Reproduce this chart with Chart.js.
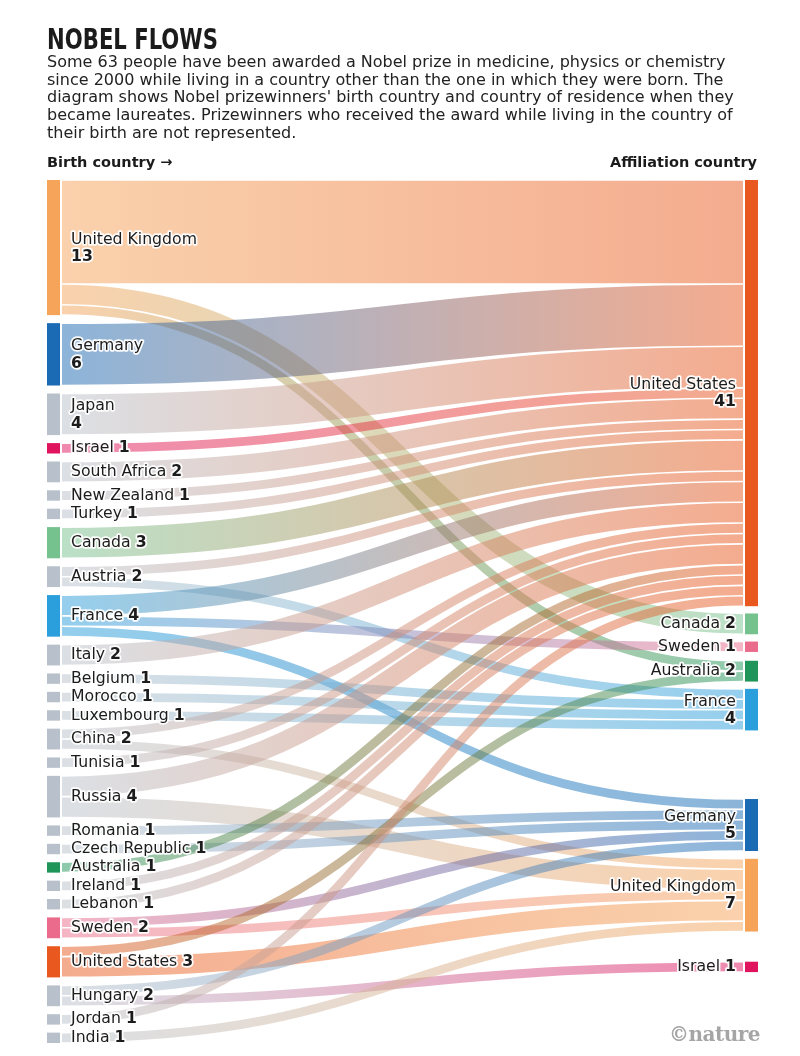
<!DOCTYPE html>
<html><head><meta charset="utf-8">
<script src="https://cdn.jsdelivr.net/npm/chart.js@4.4.1/dist/chart.umd.min.js"></script>
<style>
html,body{margin:0;padding:0;background:#fff;width:800px;height:1056px;overflow:hidden;}
#wrap{position:relative;width:800px;height:1056px;}
#c{position:absolute;left:0;top:0;z-index:1;}
.t{position:absolute;white-space:nowrap;color:#1b1b1b;z-index:2;}
#title{left:47px;top:25px;font-family:'Liberation Sans Narrow','DejaVu Sans Condensed',sans-serif;font-weight:bold;font-size:29px;line-height:29px;transform-origin:left top;}
#sub{left:47px;top:53px;font-family:'DejaVu Sans',sans-serif;font-size:16px;line-height:17.7px;color:#222;}
#lh{left:47px;top:155px;font-family:'DejaVu Sans',sans-serif;font-weight:bold;font-size:14.5px;line-height:14px;}
#rh{right:43px;top:155px;font-family:'DejaVu Sans',sans-serif;font-weight:bold;font-size:14.5px;line-height:14px;}
#nat{right:40px;top:1024px;font-family:'DejaVu Serif',serif;font-weight:bold;font-size:20px;line-height:20px;color:#a5a5a5;letter-spacing:-0.5px;}
</style></head>
<body><div id="wrap">
<canvas id="c" width="800" height="1056"></canvas>
<div class="t" id="title">NOBEL FLOWS</div>
<div class="t" id="sub">Some 63 people have been awarded a Nobel prize in medicine, physics or chemistry<br>since 2000 while living in a country other than the one in which they were born. The<br>diagram shows Nobel prizewinners' birth country and country of residence when they<br>became laureates. Prizewinners who received the award while living in the country of<br>their birth are not represented.</div>
<div class="t" id="lh">Birth country →</div>
<div class="t" id="rh">Affiliation country</div>
<div class="t" id="nat">©nature</div>
</div>
<script>
// ---------------- DATA ----------------
const birthCountries = ['United Kingdom','Germany','Japan','Israel','South Africa','New Zealand','Turkey','Canada','Austria','France','Italy','Belgium','Morocco','Luxembourg','China','Tunisia','Russia','Romania','Czech Republic','Australia','Ireland','Lebanon','Sweden','United States','Hungary','Jordan','India'];
const affiliationCountries = ['United States','Canada','Sweden','Australia','France','Germany','United Kingdom','Israel'];
const flowFrom = ['United Kingdom','United Kingdom','United Kingdom','Germany','Japan','Israel','South Africa','New Zealand','Turkey','Canada','Austria','Austria','France','France','France','Italy','Belgium','Morocco','Luxembourg','China','China','Tunisia','Russia','Russia','Romania','Czech Republic','Australia','Ireland','Lebanon','Sweden','Sweden','United States','United States','Hungary','Hungary','Jordan','India'];
const flowTo = ['United States','Canada','Australia','United States','United States','United States','United States','United States','United States','United States','United States','France','United States','Sweden','Germany','United States','France','France','France','United States','United Kingdom','United States','United States','United Kingdom','Germany','Germany','United States','United States','United States','Germany','United Kingdom','Australia','United Kingdom','Germany','Israel','United States','United Kingdom'];
const flowCount = [10,2,1,6,4,1,2,1,1,3,1,1,2,1,1,2,1,1,1,1,1,1,2,2,1,1,1,1,1,1,1,1,2,1,1,1,1];

// ---------------- STYLE / LAYOUT ----------------
const countryColor = {'United Kingdom':'#f5a45a','Germany':'#1a6ab4','Israel':'#e0135f','Canada':'#76c28f','France':'#2b9fdc','Australia':'#1f955a','Sweden':'#ea6b8b','United States':'#e9591f'};
const greyColor = '#b8c1cb';
const layout = {
  nodeWidth: 13/711, leftGap: 0.77, rightGapBefore: [0,0.7,0.7,0.85,0.7,6.6,0.75,2.9],
  linkPadPx: 2, linkInsetPx: 1.6, alpha: 0.5,
  twoLineLeft: ['United Kingdom','Germany','Japan'],
  twoLineRight: ['United States','France','Germany','United Kingdom'],
  font: "15.7px 'DejaVu Sans'", boldFont: "bold 15.7px 'DejaVu Sans'"
};

function sumBy(names, keyArr){ return names.map(n => keyArr.reduce((s,k,i)=> s + (k===n ? flowCount[i] : 0), 0)); }
const birthTotals = sumBy(birthCountries, flowFrom);
const affTotals = sumBy(affiliationCountries, flowTo);
const yMax = birthTotals.reduce((a,b)=>a+b,0) + (birthCountries.length-1)*layout.leftGap;

function rgba(hex,a){const n=parseInt(hex.slice(1),16);return `rgba(${n>>16&255},${n>>8&255},${n&255},${a})`;}

const sankeyPlugin = {
  id:'sankey',
  afterDatasetsDraw(chart){
    const {ctx, scales:{x, y}} = chart;
    const left = {}, right = {};
    let acc = 0;
    birthCountries.forEach((n,i)=>{ left[n] = {y0:acc, y1:acc+birthTotals[i], idx:i, off:0}; acc += birthTotals[i] + layout.leftGap; });
    acc = 0;
    affiliationCountries.forEach((n,j)=>{ acc += layout.rightGapBefore[j]; right[n] = {y0:acc, y1:acc+affTotals[j], idx:j, off:0}; acc += affTotals[j]; });
    const links = flowFrom.map((s,i)=>({s, t:flowTo[i], v:flowCount[i], i}));
    const bySrc = [...links].sort((a,b)=> left[a.s].idx - left[b.s].idx || right[a.t].idx - right[b.t].idx);
    bySrc.forEach(l=>{ const n=left[l.s]; l.sy = n.y0 + n.off + l.v/2; n.off += l.v; });
    const byTgt = [...links].sort((a,b)=> right[a.t].idx - right[b.t].idx || left[a.s].idx - left[b.s].idx);
    byTgt.forEach(l=>{ const n=right[l.t]; l.ty = n.y0 + n.off + l.v/2; n.off += l.v; });
    const unitPx = Math.abs(y.getPixelForValue(1) - y.getPixelForValue(0));
    const xL0 = x.getPixelForValue(0), xL1 = x.getPixelForValue(layout.nodeWidth);
    const xR0 = x.getPixelForValue(1 - layout.nodeWidth), xR1 = x.getPixelForValue(1);
    const xs = xL1 + layout.linkPadPx, xt = xR0 - layout.linkPadPx, xm = (xs+xt)/2;
    ctx.save();
    links.forEach(l=>{
      const ys = y.getPixelForValue(l.sy), yt = y.getPixelForValue(l.ty);
      const g = ctx.createLinearGradient(xs,0,xt,0);
      g.addColorStop(0, rgba(countryColor[l.s]||greyColor, layout.alpha));
      g.addColorStop(1, rgba(countryColor[l.t]||greyColor, layout.alpha));
      ctx.strokeStyle = g;
      ctx.lineWidth = Math.max(1, l.v*unitPx - layout.linkInsetPx);
      ctx.lineCap = 'butt';
      ctx.beginPath(); ctx.moveTo(xs, ys); ctx.bezierCurveTo(xm, ys, xm, yt, xt, yt); ctx.stroke();
    });
    birthCountries.forEach(n=>{ const nd=left[n]; const p0=y.getPixelForValue(nd.y0), p1=y.getPixelForValue(nd.y1);
      ctx.fillStyle = countryColor[n]||greyColor; ctx.fillRect(xL0, p0, xL1-xL0, p1-p0); });
    affiliationCountries.forEach(n=>{ const nd=right[n]; const p0=y.getPixelForValue(nd.y0), p1=y.getPixelForValue(nd.y1);
      ctx.fillStyle = countryColor[n]||greyColor; ctx.fillRect(xR0, p0, xR1-xR0, p1-p0); });
    ctx.textBaseline = 'middle'; ctx.lineJoin = 'round';
    function txt(s, px, py, bold, align){
      ctx.font = bold ? layout.boldFont : layout.font; ctx.textAlign = align;
      ctx.lineWidth = 3.5; ctx.strokeStyle = 'rgba(255,255,255,0.95)'; ctx.strokeText(s, px, py);
      ctx.fillStyle = '#1c1c1c'; ctx.fillText(s, px, py);
    }
    function w(s,bold){ ctx.font = bold ? layout.boldFont : layout.font; return ctx.measureText(s).width; }
    const lx = xL1 + 11;
    birthCountries.forEach((n,i)=>{ const nd=left[n]; const c = y.getPixelForValue((nd.y0+nd.y1)/2); const v=String(birthTotals[i]);
      if (layout.twoLineLeft.includes(n)) { txt(n, lx, c-8, false, 'left'); txt(v, lx, c+9.5, true, 'left'); }
      else { txt(n, lx, c, false, 'left'); txt(v, lx + w(n+' ',false), c, true, 'left'); }
    });
    const rx = xR0 - 9;
    affiliationCountries.forEach((n,j)=>{ const nd=right[n]; const c = y.getPixelForValue((nd.y0+nd.y1)/2); const v=String(affTotals[j]);
      if (layout.twoLineRight.includes(n)) { txt(n, rx, c-8, false, 'right'); txt(v, rx, c+9, true, 'right'); }
      else { txt(v, rx, c, true, 'right'); txt(n, rx - w(v,true) - w(' ',false), c, false, 'right'); }
    });
    ctx.restore();
  }
};

new Chart(document.getElementById('c'), {
  type:'scatter',
  data:{datasets:[{data:[]}]},
  options:{
    responsive:false, animation:false,
    layout:{padding:{top:180,left:47,right:42,bottom:13}},
    scales:{ x:{type:'linear',min:0,max:1,display:false}, y:{type:'linear',min:0,max:yMax,reverse:true,display:false} },
    plugins:{legend:{display:false},tooltip:{enabled:false}}
  },
  plugins:[sankeyPlugin]
});
const t = document.getElementById('title'); const tw = t.getBoundingClientRect().width; t.style.transform = `scaleX(${171/tw})`;
</script>
</body></html>
